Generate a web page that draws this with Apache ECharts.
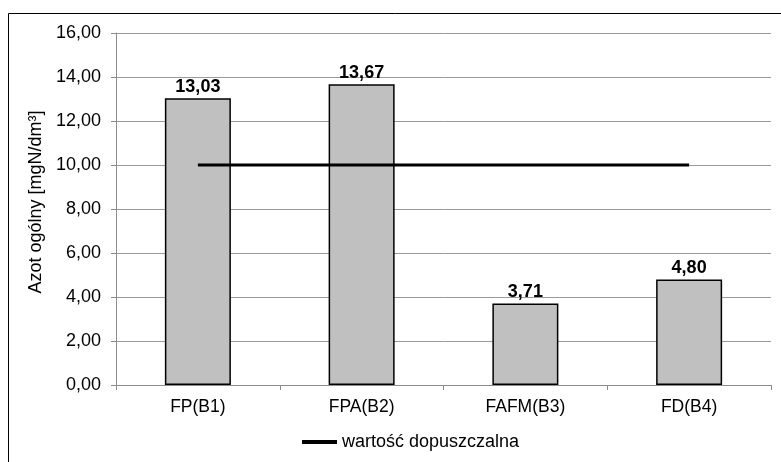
<!DOCTYPE html>
<html>
<head>
<meta charset="utf-8">
<script src="https://cdn.jsdelivr.net/npm/echarts@6/dist/echarts.min.js"></script>
<style>
  html, body { margin: 0; padding: 0; background: #fff; }
  #chart { width: 781px; height: 462px; }
</style>
</head>
<body>
<div id="chart"></div>
<script>
// Total nitrogen per filter bed, with the permissible limit
const categories = ['FP(B1)', 'FPA(B2)', 'FAFM(B3)', 'FD(B4)'];
const nitrogenValues = [13.03, 13.67, 3.71, 4.80];
const limitValues = [10, 10, 10, 10];
const limitName = 'wartość dopuszczalna';
const yAxisName = 'Azot ogólny [mgN/dm³]';

const fmt = v => v.toFixed(2).replace('.', ',');
const font = 'Arial, "Liberation Sans", sans-serif';

const chart = echarts.init(document.getElementById('chart'));
chart.setOption({
  animation: false,
  textStyle: { fontFamily: font },
  graphic: [{
    type: 'polyline',
    shape: { points: [[8.5, 470], [8.5, 13.5], [790, 13.5]] },
    style: { fill: 'none', stroke: '#000', lineWidth: 1 },
    silent: true
  }],
  grid: { left: 116, right: 10, top: 33, bottom: 77 },
  legend: {
    data: [limitName],
    left: 295,
    top: 428,
    itemWidth: 35,
    itemHeight: 4,
    itemGap: 4,
    lineStyle: { width: 4 },
    textStyle: { color: '#000', fontSize: 18, fontFamily: font }
  },
  xAxis: {
    type: 'category',
    data: categories,
    axisLine: { lineStyle: { color: '#8c8c8c', width: 1 } },
    axisTick: { show: true, length: 5, lineStyle: { color: '#8c8c8c' } },
    axisLabel: { color: '#000', fontSize: 17.5, margin: 13, fontFamily: font }
  },
  yAxis: {
    type: 'value',
    min: 0,
    max: 16,
    interval: 2,
    name: yAxisName,
    nameLocation: 'middle',
    nameGap: 64,
    nameTextStyle: { color: '#000', fontSize: 18, fontFamily: font, padding: [0, 0, 0, 14] },
    axisLine: { show: true, lineStyle: { color: '#8c8c8c' } },
    axisTick: { show: true, length: 5, lineStyle: { color: '#8c8c8c' } },
    axisLabel: { color: '#000', fontSize: 18, margin: 15, formatter: fmt, fontFamily: font },
    splitLine: { lineStyle: { color: '#9a9a9a', width: 1 } }
  },
  series: [
    {
      type: 'bar',
      name: 'Azot ogólny',
      data: nitrogenValues,
      barWidth: 66,
      itemStyle: { color: '#c0c0c0', borderColor: '#000', borderWidth: 1.5 },
      label: {
        show: true,
        position: 'top',
        distance: 2,
        formatter: p => fmt(p.value),
        color: '#000',
        fontSize: 18,
        fontWeight: 'bold',
        fontFamily: font
      }
    },
    {
      type: 'line',
      name: limitName,
      data: limitValues,
      symbol: 'none',
      lineStyle: { color: '#000', width: 3 },
      itemStyle: { color: '#000' },
      z: 5
    }
  ]
});
</script>
</body>
</html>
